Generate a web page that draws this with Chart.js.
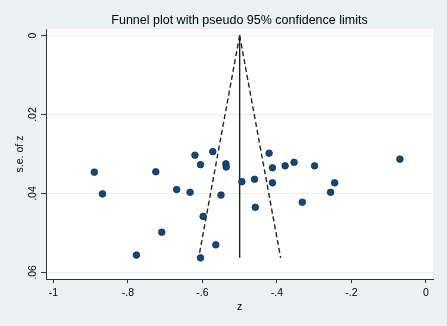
<!DOCTYPE html>
<html>
<head>
<meta charset="utf-8">
<script src="https://cdn.jsdelivr.net/npm/chart.js@4.4.1/dist/chart.umd.min.js"></script>
<style>
  html, body { margin: 0; padding: 0; background: #eaf2f3; }
</style>
</head>
<body>
<canvas id="funnel" width="447" height="326"></canvas>
<script>
// study effects (z) and their standard errors
const zValues = [
  -0.890, -0.868, -0.777, -0.725, -0.709, -0.669, -0.633, -0.620, -0.605, -0.605,
  -0.598, -0.572, -0.564, -0.550, -0.537, -0.536, -0.494, -0.460, -0.458, -0.421,
  -0.412, -0.412, -0.378, -0.354, -0.332, -0.299, -0.256, -0.245, -0.070
];
const seValues = [
  0.0346, 0.0401, 0.0556, 0.0345, 0.0498, 0.0390, 0.0397, 0.0303, 0.0327, 0.0563,
  0.0458, 0.0294, 0.0530, 0.0404, 0.0325, 0.0333, 0.0370, 0.0364, 0.0435, 0.0298,
  0.0335, 0.0373, 0.0330, 0.0321, 0.0422, 0.0330, 0.0397, 0.0373, 0.0313
];

// pooled estimate and pseudo 95% limits at the largest s.e.
const pooledZ = -0.5;
const funnelSe = [0, 0.0563];
const lowerLimitZ = [-0.5, -0.61];
const upperLimitZ = [-0.5, -0.39];

const xTicks = [-1, -0.8, -0.6, -0.4, -0.2, 0];
const xTickLabels = ['-1', '-.8', '-.6', '-.4', '-.2', '0'];
const yTicks = [0, 0.02, 0.04, 0.06];
const yTickLabels = ['0', '.02', '.04', '.06'];

const family = '"Liberation Sans", Arial, sans-serif';
const ink = '#000';
const axisColor = '#333';

const frame = {
  id: 'frame',
  beforeDraw(chart) {
    const { ctx, chartArea: a } = chart;
    ctx.save();
    ctx.fillStyle = '#eaf2f3';
    ctx.fillRect(0, 0, chart.width, chart.height);
    ctx.fillStyle = '#fff';
    ctx.fillRect(a.left, a.top, a.right - a.left, a.bottom - a.top);
    ctx.restore();
  },
  afterDraw(chart) {
    // stata style: y tick labels turned to read upward
    const { ctx } = chart;
    const y = chart.scales.y;
    ctx.save();
    ctx.font = '10.5px ' + family;
    ctx.fillStyle = ink;
    ctx.textAlign = 'center';
    ctx.textBaseline = 'middle';
    y.ticks.forEach((t, i) => {
      ctx.save();
      ctx.translate(33, y.getPixelForValue(t.value));
      ctx.rotate(-Math.PI / 2);
      ctx.fillText(yTickLabels[i], 0, 0);
      ctx.restore();
    });
    ctx.restore();
  }
};

const studies = zValues.map((z, i) => ({ x: z, y: seValues[i] }));
const centre = funnelSe.map(se => ({ x: pooledZ, y: se }));
const lower = funnelSe.map((se, i) => ({ x: lowerLimitZ[i], y: se }));
const upper = funnelSe.map((se, i) => ({ x: upperLimitZ[i], y: se }));

new Chart(document.getElementById('funnel'), {
  type: 'scatter',
  data: {
    datasets: [
      {
        data: studies,
        pointRadius: 3.3,
        pointBackgroundColor: '#1a476f',
        pointBorderColor: '#0d2f52',
        pointBorderWidth: 0.8,
      },
      {
        type: 'line',
        data: centre,
        borderColor: '#222',
        borderWidth: 1.4,
        pointRadius: 0,
      },
      {
        type: 'line',
        data: lower,
        borderColor: '#222',
        borderWidth: 1.4,
        borderDash: [5, 3],
        pointRadius: 0,
      },
      {
        type: 'line',
        data: upper,
        borderColor: '#222',
        borderWidth: 1.4,
        borderDash: [5, 3],
        pointRadius: 0,
      },
    ],
  },
  options: {
    responsive: false,
    animation: false,
    devicePixelRatio: 1,
    layout: { padding: { left: 0, right: 14, top: 0, bottom: 0 } },
    scales: {
      x: {
        type: 'linear',
        min: -1.0196,
        max: 0.0188,
        afterBuildTicks: s => { s.ticks = xTicks.map(v => ({ value: v })); },
        afterFit: s => { s.height = 47; },
        grid: { drawOnChartArea: false, tickLength: 4, tickColor: axisColor },
        border: { color: axisColor, width: 1 },
        ticks: {
          autoSkip: false,
          maxRotation: 0,
          padding: 4,
          color: ink,
          font: { size: 10.5, family },
          callback: (v, i) => xTickLabels[i],
        },
        title: {
          display: true,
          text: 'z',
          color: ink,
          font: { size: 10.5, family },
          padding: { top: 0, bottom: 12.7 },
        },
      },
      y: {
        type: 'linear',
        reverse: true,
        min: -0.00165,
        max: 0.06165,
        afterBuildTicks: s => { s.ticks = yTicks.map(v => ({ value: v })); },
        afterFit: s => { s.width = 46; },
        grid: { color: '#e6eef0', lineWidth: 1, tickLength: 5, tickColor: axisColor },
        border: { color: axisColor, width: 1 },
        ticks: { display: false },
        title: {
          display: true,
          text: 's.e. of z',
          color: ink,
          font: { size: 10.5, family },
          padding: { top: 13.7, bottom: 0 },
        },
      },
    },
    plugins: {
      legend: { display: false },
      tooltip: { enabled: false },
      title: {
        display: true,
        text: 'Funnel plot with pseudo 95% confidence limits',
        fullSize: false,
        color: ink,
        font: { size: 12.5, weight: 'normal', family },
        padding: { top: 13.5, bottom: 0.5 },
      },
    },
  },
  plugins: [frame],
});
</script>
</body>
</html>
